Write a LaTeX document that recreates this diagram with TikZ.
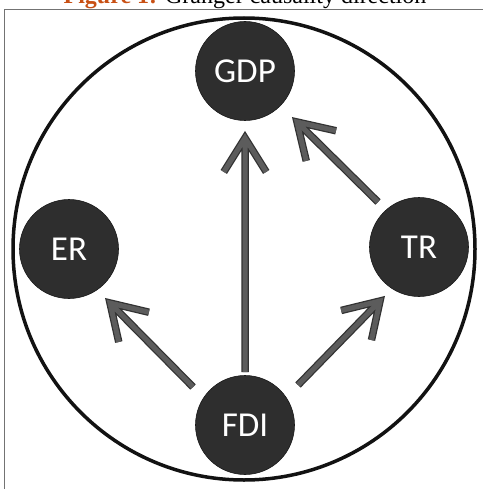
\documentclass[tikz,border=0pt]{standalone}
\usepackage{fontspec}
\setmainfont{Liberation Serif}
\newfontfamily\nodefont{Carlito}
\usetikzlibrary{calc}
\definecolor{titleorange}{RGB}{200,80,20}
\definecolor{nodefill}{RGB}{46,46,46}
\definecolor{arrowfill}{RGB}{92,92,92}
\definecolor{arrowedge}{RGB}{50,50,50}
\tikzset{
  varnode/.style={circle, fill=nodefill, draw=black!90, line width=0.6pt,
    minimum size=99pt, inner sep=0pt, text=white,
    font=\nodefont\fontsize{35}{40}\selectfont},
  arrowout/.style={draw=arrowedge, line width=7.5pt, line cap=butt, line join=miter},
  arrowin/.style={draw=arrowfill, line width=5pt, line cap=butt, line join=miter},
}
\newcommand\fatarrow[2]{%
  \draw[arrowout] (#1) -- (#2) ($(#2)!40pt!32:(#1)$) -- (#2) -- ($(#2)!40pt!-32:(#1)$);
  \draw[arrowin] (#1) -- (#2) ($(#2)!40pt!32:(#1)$) -- (#2) -- ($(#2)!40pt!-32:(#1)$);
}
\begin{document}
\begin{tikzpicture}[x=1pt,y=-1pt]
\useasboundingbox (0,0) rectangle (485,489);
\fill[white] (0,0) rectangle (485,489);
% title (cut at top)
\node[anchor=base, inner sep=0pt, font=\fontsize{24}{28}\selectfont] (title) at (245,4)
  {\textcolor{titleorange}{\textbf{Figure 1:}} Granger causality direction};
% frame
\draw[black!55, line width=1pt] (4,489) -- (4,10) -- (483,10);
% big circle
\draw[black!93, line width=3.5pt] (244,249) circle[radius=231];
% nodes
\node[varnode] (gdp) at (245,71) {GDP};
\node[varnode] (er) at (69,249) {ER};
\node[varnode] (tr) at (419,247) {TR};
\node[varnode] (fdi) at (245,425) {FDI};
% arrow end points
\coordinate (a1s) at ($(fdi)+(0,-53)$);
\coordinate (a1t) at ($(gdp)+(0,67)$);
\coordinate (a2s) at ($(fdi)+(-52,-38)$);
\coordinate (a2t) at ($(er)+(41,54)$);
\coordinate (a3s) at ($(fdi)+(53,-40)$);
\coordinate (a3t) at ($(tr)+(-39,54)$);
\coordinate (a4s) at ($(tr)+(-41,-45)$);
\coordinate (a4t) at ($(gdp)+(52,51)$);
\fatarrow{a1s}{a1t}
\fatarrow{a2s}{a2t}
\fatarrow{a3s}{a3t}
\fatarrow{a4s}{a4t}
\end{tikzpicture}
\end{document}
